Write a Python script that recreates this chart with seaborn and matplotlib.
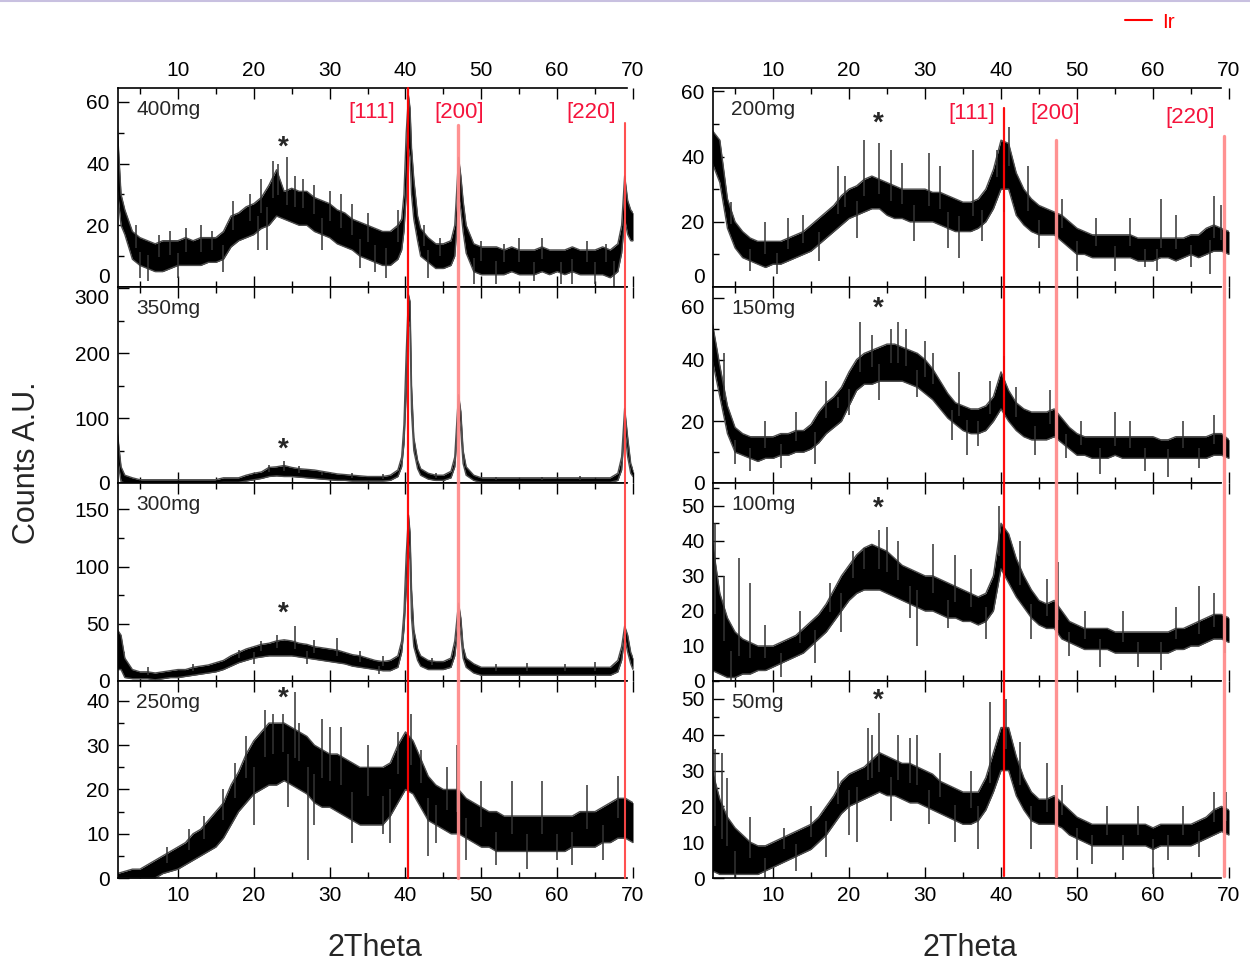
import numpy as np
import pandas as pd
import matplotlib.pyplot as plt
import matplotlib.transforms as mtrans
from matplotlib.lines import Line2D
from matplotlib.ticker import MultipleLocator
import seaborn as sb

sb.set_theme(style='ticks')
plt.rcParams['font.family'] = ['Liberation Sans', 'DejaVu Sans']

# 2theta sample positions (1 deg steps, finer around the Ir reflections)
GRID = list(range(2, 71))
PEAK_GRID = ([2, 2.5] + list(range(3, 40)) + [39.5, 39.8, 40.1, 40.4, 40.6, 40.8, 41.1, 41.6]
             + list(range(42, 47)) + [46.5, 46.8, 47.0, 47.3, 47.6]
             + list(range(48, 69)) + [68.5, 68.9, 69.3, 69.7, 70])

# upper / lower edge of the noisy trace
hi_400 = ([52, 30] + [25, 18, 16, 15, 14, 15, 15, 15, 16, 15, 16, 16, 16]
          + [18, 23, 24, 26, 27, 29, 33, 38, 31, 32, 31, 31, 29, 28, 27, 25, 24, 22, 21, 20, 19, 18, 18, 20]
          + [22, 30, 50, 62, 58, 45, 35, 23] + [19, 16, 14, 14, 15] + [20, 33, 42, 36, 28]
          + [20, 14, 13, 13, 13, 12, 13, 12, 12, 12, 13, 12, 12, 12, 13, 12, 12, 12, 13, 12, 14]
          + [20, 36, 28, 25, 24])
lo_400 = ([32, 20] + [17, 9, 7, 6, 5, 5, 6, 7, 7, 7, 7, 8, 8]
          + [9, 13, 15, 16, 17, 19, 20, 23, 22, 21, 20, 20, 18, 17, 16, 14, 13, 12, 10, 9, 8, 7, 7, 9]
          + [12, 18, 30, 45, 42, 30, 22, 15] + [10, 8, 6, 6, 7] + [10, 20, 30, 25, 18]
          + [11, 5, 4, 4, 4, 4, 5, 4, 4, 4, 5, 4, 5, 4, 5, 4, 4, 4, 4, 3, 5]
          + [11, 22, 17, 15, 15])

hi_350 = ([80, 25] + [12, 8] + [5] * 11
          + [8, 8, 8, 12, 15, 17, 24, 25, 27, 24, 22, 21, 20, 18, 16, 14, 13, 12, 11, 10, 10, 10, 12, 20]
          + [40, 90, 200, 290, 280, 150, 70, 35] + [22, 15, 12, 12, 18] + [40, 100, 136, 110, 50]
          + [25, 12] + [8] * 18 + [15] + [40, 115, 70, 30, 20])
lo_350 = ([40, 2] + [0] * 13
          + [1, 1, 1, 3, 5, 7, 10, 11, 10, 10, 9, 8, 7, 6, 5, 4, 4, 3, 3, 3, 3, 3, 4, 10]
          + [25, 60, 140, 250, 240, 110, 50, 22] + [12, 6, 4, 4, 8] + [25, 70, 110, 80, 30]
          + [12, 4] + [1] * 18 + [4] + [20, 85, 40, 15, 10])

hi_300 = ([45, 40] + [20, 10, 8, 8, 7, 8, 9, 10, 10, 12, 13, 14, 16]
          + [18, 22, 25, 28, 30, 32, 33, 35, 36, 35, 33, 32, 30, 29, 28, 27, 25, 23, 22, 20, 18, 17, 18, 22]
          + [35, 60, 110, 145, 130, 80, 45, 28] + [22, 18, 17, 17, 20] + [35, 55, 68, 55, 30]
          + [20, 15] + [12] * 18 + [18] + [30, 48, 40, 25, 20])
lo_300 = ([10, 10] + [3, 2, 2, 2, 1, 2, 3, 3, 4, 5, 6, 7, 8]
          + [10, 13, 16, 18, 20, 21, 22, 22, 22, 22, 21, 20, 19, 18, 17, 16, 15, 13, 12, 11, 10, 9, 9, 12]
          + [25, 45, 80, 120, 105, 55, 30, 18] + [13, 10, 10, 10, 12] + [22, 40, 55, 40, 20]
          + [12, 7] + [5] * 18 + [8] + [18, 38, 25, 15, 10])

hi_250 = [1, 1.5, 2, 2, 3, 4, 5, 6, 7, 8, 10, 11, 13, 15, 17, 21, 24, 28, 31, 33, 35, 35, 35, 34, 33,
          32, 30, 29, 28, 28, 27, 26, 25, 25, 25, 25, 26, 30, 33, 31, 27, 23, 21, 20, 20, 20, 18, 17,
          16, 15, 15, 14, 14, 14, 14, 14, 14, 14, 14, 14, 14, 15, 15, 15, 16, 17, 18, 18, 17]
lo_250 = [0, 0, 0, 0, 0, 0, 1, 1.5, 2, 3, 4, 5, 6, 7, 9, 12, 15, 17, 19, 20, 21, 21, 22, 21, 20,
          19, 17, 16, 16, 15, 14, 13, 12, 12, 12, 12, 14, 17, 20, 19, 16, 13, 12, 11, 10, 10, 9, 8,
          7, 7, 6, 6, 6, 6, 6, 6, 6, 6, 6, 6, 7, 7, 7, 7, 8, 8, 9, 9, 8]

hi_200 = [48, 45, 27, 20, 17, 15, 14, 14, 14, 14, 15, 16, 17, 19, 21, 23, 25, 28, 30, 31, 33, 34, 33,
          32, 31, 30, 30, 30, 30, 29, 29, 28, 27, 26, 26, 27, 30, 36, 45, 44, 35, 30, 27, 25, 24, 23,
          22, 20, 18, 17, 16, 16, 16, 16, 16, 16, 15, 15, 15, 15, 15, 15, 15, 16, 16, 18, 19, 18, 17]
lo_200 = [38, 32, 18, 12, 9, 8, 7, 6, 7, 7, 8, 9, 10, 11, 13, 15, 17, 19, 21, 22, 23, 24, 24, 22, 21,
          21, 20, 20, 20, 20, 19, 18, 17, 17, 17, 18, 20, 24, 30, 30, 22, 19, 17, 16, 16, 16, 14, 12,
          10, 10, 9, 9, 9, 9, 9, 9, 8, 8, 8, 9, 9, 8, 9, 10, 9, 10, 11, 11, 10]

hi_150 = [52, 38, 25, 18, 16, 15, 15, 15, 15, 16, 16, 17, 17, 19, 23, 26, 28, 31, 36, 40, 42, 43, 44,
          45, 45, 44, 43, 42, 40, 37, 33, 29, 26, 25, 24, 24, 25, 28, 36, 30, 26, 24, 23, 23, 23, 24,
          21, 18, 16, 15, 15, 15, 15, 15, 15, 15, 15, 15, 15, 14, 14, 15, 15, 15, 15, 15, 16, 16, 14]
lo_150 = [40, 28, 16, 10, 9, 8, 7, 8, 8, 9, 9, 10, 10, 11, 13, 16, 18, 20, 25, 30, 32, 32, 33, 33, 33,
          33, 32, 31, 29, 27, 24, 21, 19, 17, 16, 16, 17, 20, 24, 20, 17, 15, 14, 14, 14, 15, 13, 11,
          9, 9, 8, 8, 8, 9, 8, 8, 8, 8, 8, 8, 8, 8, 8, 8, 8, 8, 9, 9, 8]

hi_100 = [40, 25, 18, 14, 12, 11, 10, 10, 10, 11, 12, 13, 15, 17, 19, 22, 26, 30, 33, 36, 38, 39, 38,
          37, 35, 33, 32, 31, 30, 30, 29, 28, 27, 26, 25, 24, 25, 30, 45, 42, 35, 30, 26, 23, 22, 23,
          20, 17, 16, 15, 15, 15, 15, 14, 14, 14, 14, 14, 14, 14, 14, 15, 15, 16, 17, 18, 19, 19, 18]
lo_100 = [3, 2, 1, 1, 2, 2, 3, 3, 4, 5, 6, 7, 8, 10, 12, 14, 17, 20, 23, 25, 26, 26, 26, 25, 24, 23,
          22, 21, 20, 20, 19, 18, 18, 17, 17, 16, 17, 20, 32, 28, 24, 21, 18, 16, 15, 15, 12, 11, 10,
          9, 9, 9, 9, 8, 8, 8, 8, 8, 8, 8, 8, 9, 9, 10, 10, 11, 12, 12, 11]

hi_50 = [30, 22, 17, 14, 12, 10, 9, 9, 10, 11, 12, 13, 14, 15, 17, 20, 23, 27, 29, 30, 31, 33, 35, 34,
         33, 32, 32, 31, 30, 29, 27, 26, 25, 24, 24, 24, 28, 35, 42, 42, 34, 28, 24, 22, 22, 23, 21,
         19, 17, 16, 15, 15, 15, 15, 15, 15, 15, 15, 14, 15, 15, 15, 15, 15, 16, 17, 19, 20, 19]
lo_50 = [2, 1, 1, 1, 1, 1, 1, 2, 3, 4, 5, 6, 7, 8, 10, 12, 15, 18, 20, 21, 22, 23, 24, 23, 23, 22, 21,
         21, 20, 19, 18, 17, 16, 15, 15, 16, 19, 24, 30, 30, 23, 19, 16, 15, 15, 15, 14, 12, 11, 10,
         9, 9, 9, 9, 9, 9, 9, 9, 8, 9, 9, 9, 9, 9, 10, 11, 12, 13, 12]

# single noise spikes sticking out of the band (position, tip value)
spk_x_400 = [4.5, 5.0, 6.0, 7.5, 9.0, 10.0, 11.0, 13.0, 14.5, 16.0, 17.3, 19.5, 20.5, 21.0, 21.8,
             22.6, 23.2, 24.4, 25.5, 26.5, 28.0, 29.0, 30.0, 31.5, 33.0, 34.0, 35.0, 36.0, 37.5, 39.0,
             42.5, 43.0, 44.5, 49.0, 50.0, 52.0, 53.0, 55.0, 57.0, 58.0, 60.5, 62.0, 64.0, 65.0, 66.5, 67.5]
spk_y_400 = [20, 3, 2, 17, 18, 3, 19, 20, 18, 5, 28, 30, 12, 35, 12,
             41, 40, 42, 36, 35, 33, 12, 31, 30, 27, 6, 24, 5, 3, 25,
             20, 3, 16, 1, 15, 1, 14, 16, 2, 16, 1, 1, 15, 1, 14, 0]
spk_x_350 = [22.0, 24.0, 26.0, 29.0, 33.0, 37.0, 44.0, 52.0, 58.0, 63.0]
spk_y_350 = [28, 34, 26, 17, 16, 14, 16, 10, 10, 11]
spk_x_300 = [6.0, 12.0, 18.0, 20.0, 21.0, 23.0, 25.5, 27.0, 28.0, 31.0, 34.0, 36.5, 37.0, 43.5,
             52.0, 56.0, 61.0, 65.0]
spk_y_300 = [12, 15, 27, 15, 35, 40, 48, 15, 36, 38, 26, 6, 22, 20, 15, 16, 15, 17]
spk_x_250 = [8.5, 11.5, 13.5, 16.0, 17.5, 19.0, 20.0, 21.5, 22.5, 23.8, 24.5, 25.5, 26.0, 27.2, 28.0,
             29.0, 30.0, 31.5, 33.0, 35.0, 37.0, 38.0, 39.0, 40.7, 42.0, 43.0, 44.0, 45.5, 46.8, 48.0,
             50.0, 52.0, 54.0, 56.0, 58.0, 60.0, 62.0, 64.0, 66.0, 68.0]
spk_y_250 = [7, 11, 14, 20, 26, 32, 12, 38, 37, 37, 16, 42, 35, 4, 12,
             36, 34, 34, 8, 30, 10, 8, 33, 37, 29, 5, 8, 25, 30, 4,
             22, 3, 22, 2, 22, 4, 3, 21, 4, 23]
spk_x_200 = [4.5, 7.0, 9.0, 10.5, 12.0, 14.0, 16.0, 18.5, 19.5, 21.0, 22.0, 24.0, 25.5, 27.0, 28.5,
             30.5, 32.0, 33.0, 34.5, 36.3, 37.5, 39.5, 40.4, 41.0, 43.5, 45.0, 48.0, 50.0, 52.5, 55.0,
             57.0, 59.0, 60.5, 61.0, 63.0, 65.0, 67.5, 68.0, 69.0]
spk_y_200 = [26, 5, 20, 4, 21, 22, 8, 37, 34, 15, 45, 44, 42, 38, 14,
             41, 37, 12, 9, 42, 14, 42, 23, 49, 37, 12, 27, 5, 21, 5,
             21, 6, 5, 27, 22, 6, 4, 28, 25]
spk_x_150 = [3.5, 5.0, 7.0, 9.0, 11.0, 13.0, 15.5, 17.0, 18.5, 20.0, 21.5, 23.0, 24.0, 25.5, 26.5,
             27.5, 29.0, 30.0, 31.0, 33.5, 34.5, 35.5, 37.0, 38.5, 40.4, 42.0, 44.5, 46.5, 48.5, 50.5,
             53.0, 55.0, 57.0, 59.0, 62.0, 64.0, 66.0, 68.0]
spk_y_150 = [42, 6, 4, 20, 5, 23, 6, 33, 28, 22, 52, 48, 27, 50, 52,
             50, 28, 46, 42, 14, 36, 9, 12, 33, 41, 31, 9, 30, 8, 20,
             3, 23, 20, 4, 2, 20, 5, 22]
spk_x_100 = [2.3, 3.5, 4.5, 5.5, 7.0, 9.0, 11.0, 13.5, 15.5, 17.5, 19.0, 20.5, 22.0, 24.0, 25.0,
             26.5, 28.0, 29.0, 31.0, 33.0, 34.0, 36.0, 38.0, 39.8, 42.5, 44.0, 46.0, 47.5, 49.0, 51.0,
             53.0, 56.0, 58.0, 61.0, 63.0, 66.0, 68.0, 69.5]
spk_y_100 = [45, 30, 0, 35, 28, 16, 1, 20, 5, 28, 14, 37, 38, 43, 44,
             40, 18, 10, 39, 15, 36, 32, 12, 50, 40, 12, 29, 34, 7, 20,
             4, 20, 4, 3, 21, 27, 25, 8]
spk_x_50 = [2.3, 3.3, 4.0, 5.0, 7.0, 9.0, 11.5, 13.0, 15.0, 17.0, 18.5, 20.0, 21.0, 22.5, 23.0,
            24.0, 25.5, 26.5, 28.0, 29.0, 30.5, 32.0, 34.0, 36.0, 37.0, 38.5, 40.6, 42.5, 44.0, 46.0,
            48.0, 50.0, 52.0, 54.0, 56.0, 58.0, 60.0, 62.0, 64.0, 66.0, 68.0, 69.6]
spk_y_50 = [36, 35, 28, 0, 17, 0, 14, 2, 20, 6, 30, 12, 10, 42, 40,
            46, 16, 40, 39, 40, 15, 35, 10, 30, 8, 49, 50, 38, 8, 32,
            26, 5, 4, 20, 5, 20, 1, 5, 20, 6, 24, 24]

labels_left = ['400mg', '350mg', '300mg', '250mg']
labels_right = ['200mg', '150mg', '100mg', '50mg']
ytop_left = [64.5, 302, 173, 44.5]
ytop_right = [61, 63.5, 56.5, 55]
ystep_left = [20, 100, 50, 10]
ystep_right = [20, 20, 10, 10]
star_left = [0.70, 0.17, 0.34, 0.91]
star_right = [0.82, 0.89, 0.87, 0.90]

ir_hkl = ['[111]', '[200]', '[220]']
ir_pos_left = [40.3, 46.9, 68.9]
ir_pos_right = [40.4, 47.2, 69.3]

W, H = 1250, 965
fig = plt.figure(figsize=(W / 100, H / 100), dpi=100)

rows_px = [(88, 287), (287, 483), (483, 681), (681, 878)]
cols_px = [(118, 633), (713, 1229)]


def rect(col, row):
    x0, x1 = cols_px[col]
    t, b = rows_px[row]
    return [x0 / W, 1 - b / H, (x1 - x0) / W, (b - t) / H]


def panel(ax, x, hi, lo, sx, sy, label, ytop, ystep, star_y, row, spine_end):
    assert len(x) == len(hi) == len(lo) and len(sx) == len(sy)
    ax.fill_between(x, lo, hi, color='black', lw=0, zorder=2)
    edges = pd.DataFrame({'two_theta': list(x) * 2, 'counts': list(hi) + list(lo),
                          'edge': ['hi'] * len(x) + ['lo'] * len(x)})
    sb.lineplot(data=edges, x='two_theta', y='counts', units='edge', estimator=None,
                color='0.3', linewidth=1.0, ax=ax, legend=False, zorder=2)
    mid = (np.array(hi, float) + np.array(lo, float)) / 2
    ax.vlines(sx, np.interp(sx, x, mid), sy, color='0.2', lw=1.1, zorder=2)

    ax.set_xlim(2.1, 70)
    ax.set_ylim(0, ytop)
    ax.set_xlabel('')
    ax.set_ylabel('')
    ax.xaxis.set_major_locator(MultipleLocator(10))
    ax.xaxis.set_minor_locator(MultipleLocator(5))
    ax.yaxis.set_major_locator(MultipleLocator(ystep))
    ax.yaxis.set_minor_locator(MultipleLocator(ystep / 2))
    ax.tick_params(which='both', direction='in', top=True, bottom=True, left=True, right=False,
                   labelsize=15, pad=6, width=1.0, colors='black')
    ax.tick_params(which='major', length=8)
    ax.tick_params(which='minor', length=4.5)
    ax.tick_params(axis='x', labeltop=(row == 0), labelbottom=(row == 3))
    ax.spines['right'].set_visible(False)
    for s in ['top', 'bottom', 'left']:
        ax.spines[s].set_linewidth(1.2)
        ax.spines[s].set_color('black')
    ax.spines['bottom'].set_bounds(2.1, spine_end)
    ax.spines['top'].set_bounds(2.1, spine_end)
    ax.set_facecolor('white')

    ax.text(0.035, 0.89, label, transform=ax.transAxes, fontsize=15, ha='left', va='center')
    tr = mtrans.blended_transform_factory(ax.transData, ax.transAxes)
    ax.text(23.9, star_y, '*', transform=tr, fontsize=20, ha='center', va='center',
            fontweight='bold')


left_data = [(PEAK_GRID, hi_400, lo_400, spk_x_400, spk_y_400),
             (PEAK_GRID, hi_350, lo_350, spk_x_350, spk_y_350),
             (PEAK_GRID, hi_300, lo_300, spk_x_300, spk_y_300),
             (GRID, hi_250, lo_250, spk_x_250, spk_y_250)]
right_data = [(GRID, hi_200, lo_200, spk_x_200, spk_y_200),
              (GRID, hi_150, lo_150, spk_x_150, spk_y_150),
              (GRID, hi_100, lo_100, spk_x_100, spk_y_100),
              (GRID, hi_50, lo_50, spk_x_50, spk_y_50)]

axes_left, axes_right = [], []
for r in range(4):
    a = fig.add_axes(rect(0, r))
    x, hi, lo, sx, sy = left_data[r]
    panel(a, x, hi, lo, sx, sy, labels_left[r], ytop_left[r], ystep_left[r], star_left[r], r, 69.2)
    axes_left.append(a)
    b = fig.add_axes(rect(1, r))
    x, hi, lo, sx, sy = right_data[r]
    panel(b, x, hi, lo, sx, sy, labels_right[r], ytop_right[r], ystep_right[r], star_right[r], r, 68.9)
    axes_right.append(b)

# Ir reference lines running through all four panels of a column
tops_left = [88, 125, 123]
tops_right = [108, 140, 136]
cols_left = ['#ff0000', '#ff8c8c', '#ff4848']
cols_right = ['#ff0000', '#ff8c8c', '#ff8c8c']
lw_left = [1.6, 2.4, 1.5]
lw_right = [1.6, 2.4, 2.4]
for ax0, pos, tops, bot, cl, lw in [(axes_left[0], ir_pos_left, tops_left, 878, cols_left, lw_left),
                                    (axes_right[0], ir_pos_right, tops_right, 876, cols_right, lw_right)]:
    tr = mtrans.blended_transform_factory(ax0.transData, fig.transFigure)
    for i in range(3):
        fig.add_artist(Line2D([pos[i], pos[i]], [1 - tops[i] / H, 1 - bot / H], color=cl[i],
                              lw=lw[i], transform=tr, zorder=5, alpha=0.95))

# hkl labels in the top panels
lab_left = [(35.5, 0.875), (47.1, 0.875), (64.5, 0.875)]
lab_right = [(36.2, 0.87), (47.1, 0.87), (64.9, 0.85)]
for ax0, labs in [(axes_left[0], lab_left), (axes_right[0], lab_right)]:
    tr = mtrans.blended_transform_factory(ax0.transData, ax0.transAxes)
    for txt, (xx, yy) in zip(ir_hkl, labs):
        ax0.text(xx, yy, txt, transform=tr, color='#f5143c', fontsize=16, ha='center', va='center')

fig.text(0.022, 0.52, 'Counts A.U.', rotation=90, fontsize=22, ha='center', va='center')
fig.text(375 / W, 1 - 948 / H, '2Theta', fontsize=22, ha='center', va='center')
fig.text(970 / W, 1 - 948 / H, '2Theta', fontsize=22, ha='center', va='center')

fig.legend(handles=[Line2D([0], [0], color='red', lw=1.5)], labels=['Ir'], loc='center',
           bbox_to_anchor=(1150 / W, 1 - 22 / H), frameon=False, fontsize=15, labelcolor='red',
           handlelength=1.3, handletextpad=0.5)
fig.add_artist(Line2D([0, 1], [0.999, 0.999], color='#c8c0e0', lw=1.5, transform=fig.transFigure))

# as in the original, the '0' of the top panels sits a little higher and the top
# label of the second panels a little lower, so the two do not collide
fig.canvas.draw()
up = mtrans.ScaledTranslation(0, 8 / 72, fig.dpi_scale_trans)
down = mtrans.ScaledTranslation(0, -6 / 72, fig.dpi_scale_trans)
for ax0 in (axes_left[0], axes_right[0]):
    for t in ax0.yaxis.get_major_ticks():
        if t.get_loc() == 0:
            t.label1.set_transform(t.label1.get_transform() + up)
for ax0 in (axes_left[1], axes_right[1]):
    ticks = [t for t in ax0.yaxis.get_major_ticks() if t.get_loc() <= ax0.get_ylim()[1]]
    top = max(ticks, key=lambda t: t.get_loc())
    top.label1.set_transform(top.label1.get_transform() + down)

fig.savefig('out.png', dpi=100, facecolor='white')
